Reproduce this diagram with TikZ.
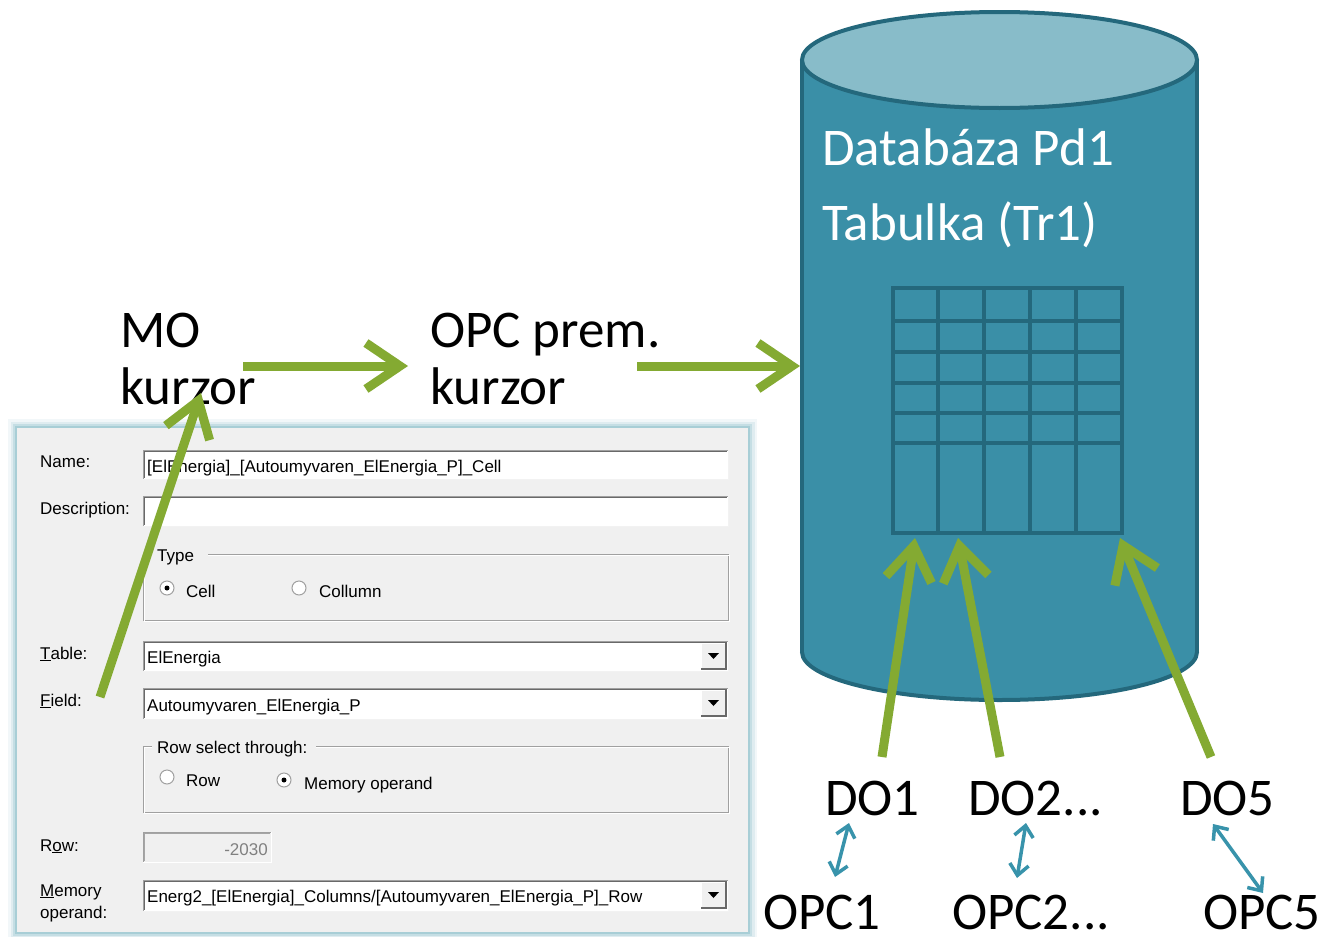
\documentclass[tikz,border=0pt]{standalone}
\usepackage{fontspec}
\setmainfont{Carlito}
\newfontfamily\dlgfont{Liberation Sans}
\usetikzlibrary{arrows.meta}

\definecolor{dbfill}{RGB}{58,143,167}
\definecolor{dbtop}{RGB}{136,188,201}
\definecolor{dbline}{RGB}{36,104,124}
\definecolor{arrowgreen}{RGB}{132,170,50}
\definecolor{linkteal}{RGB}{56,147,171}
\definecolor{panelbg}{RGB}{240,240,240}
\definecolor{glow}{RGB}{150,196,206}
\definecolor{edgegray}{RGB}{160,160,160}
\definecolor{edgedark}{RGB}{105,105,105}

\begin{document}
\begin{tikzpicture}[x=1pt,y=-1pt,
  lbl/.style={font=\fontsize{53}{60}\selectfont, inner sep=0pt, anchor=base west},
  dbtxt/.style={lbl, text=white},
  dlg/.style={font=\dlgfont\fontsize{17}{20}\selectfont, inner sep=0pt, anchor=base west},
  flow/.style={draw=arrowgreen, line width=9pt, -{Straight Barb[length=34pt,width=46pt]}},
  link/.style={draw=linkteal, line width=3.5pt, {Straight Barb[length=11pt,width=19pt]}-{Straight Barb[length=11pt,width=19pt]}},
  gridline/.style={draw=dbline, line width=4pt, line cap=rect},
  radio/.style={draw=edgegray, fill=white, line width=1pt},
]
\useasboundingbox (0,0) rectangle (1323,937);
\fill[white] (0,0) rectangle (1323,937);

% ---------- database cylinder ----------
\fill[dbfill] (802,60) rectangle (1197,652);
\fill[dbfill] (999.5,652) ellipse [x radius=197.5pt, y radius=48pt];
\draw[dbline, line width=4pt] (802,60) -- (802,652);
\draw[dbline, line width=4pt] (1197,60) -- (1197,652);
\begin{scope}
  \clip (790,652) rectangle (1210,710);
  \draw[dbline, line width=4pt] (999.5,652) ellipse [x radius=197.5pt, y radius=48pt];
\end{scope}
\draw[dbline, line width=4pt, fill=dbtop] (999.5,60) ellipse [x radius=197.5pt, y radius=48pt];

\node[dbtxt] (dbname) at (822,165) {Databáza Pd1};
\node[dbtxt] (tblname) at (822,240) {Tabulka (Tr1)};

% table grid
\foreach \gx in {893,938,984,1030,1076,1122}
  \draw[gridline] (\gx,288) -- (\gx,533);
\foreach \gy in {288,321,352,383,413,443,533}
  \draw[gridline] (893,\gy) -- (1122,\gy);
\coordinate (col1) at (915,538);
\coordinate (col2) at (958,538);
\coordinate (col5) at (1120,538);
\coordinate (dbleft) at (800,366);

% ---------- dialog panel ----------
\foreach \w/\o in {18/0.12,13/0.2,8/0.35,4/0.6}
  \draw[glow, line width=\w pt, opacity=\o] (17,428) rectangle (748,932);
\fill[panelbg] (17,428) rectangle (748,932);

% sunken edit fields
\foreach \xa/\ya/\xb/\yb in {143/450/728/479, 143/496/728/526, 143/641/728/671, 143/688/728/719, 143/880/728/911}{
  \fill[white] (\xa,\ya) rectangle (\xb,\yb);
  \draw[edgegray, line width=1pt] (\xa,\yb) -- (\xa,\ya) -- (\xb,\ya);
  \draw[edgedark, line width=1pt] (\xa+1.5,\yb-1.5) -- (\xa+1.5,\ya+1.5) -- (\xb-1.5,\ya+1.5);
  \draw[white!90!gray, line width=1pt] (\xa,\yb) -- (\xb,\yb) -- (\xb,\ya);
}
% disabled row field
\fill[panelbg] (143,832) rectangle (271,862);
\draw[edgegray, line width=1pt] (143,862) -- (143,832) -- (271,832);
\draw[edgedark!60, line width=1pt] (144.5,860.5) -- (144.5,833.5) -- (269.5,833.5);
\draw[white, line width=1pt] (143,862) -- (271,862) -- (271,832);

% drop-down buttons
\foreach \yy in {643,690,882}{
  \fill[panelbg] (701,\yy) rectangle (726,\yy+26);
  \draw[white, line width=1pt] (701,\yy+26) -- (701,\yy) -- (726,\yy);
  \draw[edgedark, line width=1.2pt] (701,\yy+26) -- (726,\yy+26) -- (726,\yy);
  \fill[black] (708,\yy+10) -- (719,\yy+10) -- (713.5,\yy+16) -- cycle;
}

% etched group frames
\draw[edgegray, line width=1pt] (152,554) -- (143,554) -- (143,620) -- (728,620) -- (728,554) -- (208,554);
\draw[white, line width=1pt] (152,555.5) -- (144.5,555.5) -- (144.5,621.5) -- (729.5,621.5) -- (729.5,555.5) -- (208,555.5);
\draw[edgegray, line width=1pt] (152,746) -- (143,746) -- (143,812) -- (728,812) -- (728,746) -- (316,746);
\draw[white, line width=1pt] (152,747.5) -- (144.5,747.5) -- (144.5,813.5) -- (729.5,813.5) -- (729.5,747.5) -- (316,747.5);

% radio buttons
\draw[radio] (167,588) circle (7pt);
\fill[black] (167,588) circle (2.5pt);
\draw[radio] (299,588) circle (7pt);
\draw[radio] (167,777) circle (7pt);
\draw[radio] (284,780) circle (7pt);
\fill[black] (284,780) circle (2.5pt);

% dialog texts
\node[dlg] (lname) at (40,467) {Name:};
\node[dlg] (ldesc) at (40,514) {Description:};
\node[dlg] (ltype) at (157,561) {Type};
\node[dlg] (lcell) at (186,597) {Cell};
\node[dlg] (lcol) at (319,597) {Collumn};
\node[dlg] (ltable) at (40,659) {\underline{T}able:};
\node[dlg] (lfield) at (40,706) {\underline{F}ield:};
\node[dlg] (lrowsel) at (157,753) {Row select through:};
\node[dlg] (lrowr) at (186,786) {Row};
\node[dlg] (lmemr) at (304,789) {Memory operand};
\node[dlg] (lrow) at (40,851) {R\underline{o}w:};
\node[dlg] (lmem1) at (40,896) {\underline{M}emory};
\node[dlg] (lmem2) at (40,918) {operand:};
\node[dlg] (vname) at (147,472) {[ElEnergia]\_[Autoumyvaren\_ElEnergia\_P]\_Cell};
\node[dlg] (vtable) at (147,663) {ElEnergia};
\node[dlg] (vfield) at (147,711) {Autoumyvaren\_ElEnergia\_P};
\node[dlg, anchor=base east, text=gray] (vrow) at (268,855) {-2030};
\node[dlg] (vmem) at (147,902) {Energ2\_[ElEnergia]\_Columns/[Autoumyvaren\_ElEnergia\_P]\_Row};

% ---------- flow labels ----------
\node[lbl] (mo) at (120,347) {MO};
\node[lbl] (mok) at (120,404) {kurzor};
\node[lbl] (opc) at (430,347) {OPC prem.};
\node[lbl] (opck) at (430,404) {kurzor};

\node[lbl] (do1) at (825,815) {DO1};
\node[lbl] (do2) at (968,815) {DO2...};
\node[lbl] (do5) at (1180,815) {DO5};
\node[lbl] (opc1) at (763,929) {OPC1};
\node[lbl] (opc2) at (952,929) {OPC2...};
\node[lbl] (opc5) at (1203,929) {OPC5};

% ---------- connectors ----------
\coordinate (f1s) at (243,366);
\coordinate (f1e) at (408,366);
\coordinate (f2s) at (637,366);
\coordinate (fds) at (100,697);
\coordinate (fde) at (201,393);
\coordinate (d1s) at (882,757);
\coordinate (d2s) at (1000,757);
\coordinate (d5s) at (1211,757);

\draw[flow] (f1s) -- (f1e);
\draw[flow] (f2s) -- (dbleft);
\draw[flow] (fds) -- (fde);
\draw[flow] (d1s) -- (col1);
\draw[flow] (d2s) -- (col2);
\draw[flow] (d5s) -- (col5);

\coordinate (l1a) at (849,823);
\coordinate (l1b) at (835,877);
\coordinate (l2a) at (1026,823);
\coordinate (l2b) at (1017,878);
\coordinate (l5a) at (1213,824);
\coordinate (l5b) at (1263,893);
\draw[link] (l1a) -- (l1b);
\draw[link] (l2a) -- (l2b);
\draw[link] (l5a) -- (l5b);
\end{tikzpicture}
\end{document}
